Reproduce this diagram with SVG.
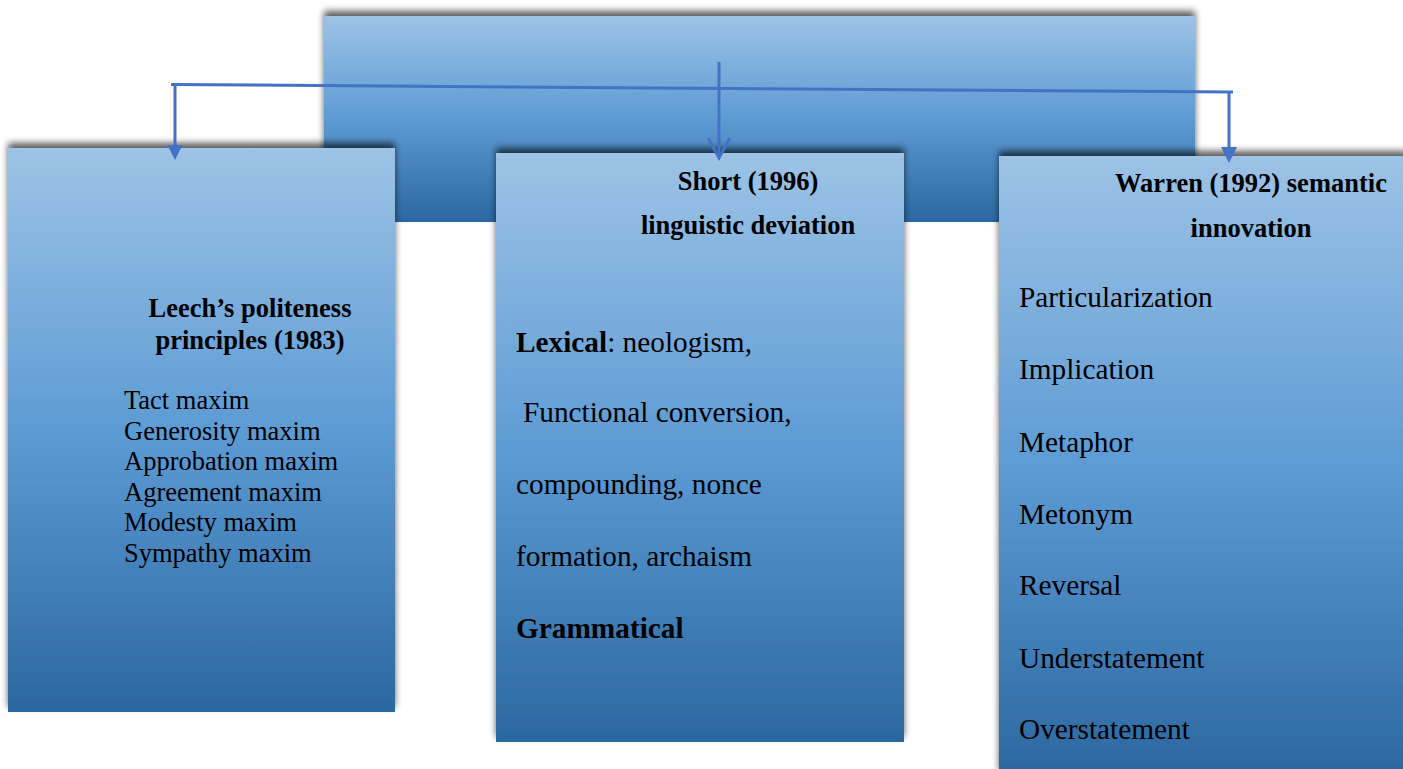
<svg xmlns="http://www.w3.org/2000/svg" width="1403" height="769" viewBox="0 0 1403 769">
<defs>
<linearGradient id="g" x1="0" y1="0" x2="0" y2="1">
<stop offset="0" stop-color="#9dc3e6"/>
<stop offset="0.5" stop-color="#5d9bd4"/>
<stop offset="1" stop-color="#2b67a0"/>
</linearGradient>
<filter id="sh" x="-10%" y="-10%" width="120%" height="120%">
<feGaussianBlur in="SourceAlpha" stdDeviation="3.5"/>
<feOffset dx="0" dy="-5" result="b"/>
<feComponentTransfer><feFuncA type="linear" slope="0.65"/></feComponentTransfer>
<feMerge><feMergeNode/><feMergeNode in="SourceGraphic"/></feMerge>
</filter>
</defs>
<style>
.box{fill:url(#g);filter:url(#sh)}
.h{font-family:"Liberation Serif","Times New Roman",serif;font-weight:bold;font-size:26.5px;fill:#000;text-anchor:middle}
.t{font-family:"Liberation Serif","Times New Roman",serif;font-size:26.5px;fill:#000}
.t2{font-family:"Liberation Serif","Times New Roman",serif;font-size:29.3px;fill:#000}
.b{font-weight:bold}
.c{fill:none;stroke:#4472c4;stroke-width:3}
.a{fill:#4472c4}
</style>
<rect width="1403" height="769" fill="#fff"/>
<g id="top">
<rect class="box" x="324" y="16" width="871" height="206"/>
</g>
<g id="leech">
<rect class="box" x="8" y="148" width="387" height="564"/>
<text class="h" x="250" y="317">Leech’s politeness</text>
<text class="h" x="250" y="349">principles (1983)</text>
<text class="t" x="124" y="409">Tact maxim</text>
<text class="t" x="124" y="439.5">Generosity maxim</text>
<text class="t" x="124" y="470">Approbation maxim</text>
<text class="t" x="124" y="500.5">Agreement maxim</text>
<text class="t" x="124" y="531">Modesty maxim</text>
<text class="t" x="124" y="561.5">Sympathy maxim</text>
</g>
<g id="short">
<rect class="box" x="496" y="153" width="408" height="589"/>
<text class="h" x="748" y="190">Short (1996)</text>
<text class="h" x="748" y="234">linguistic deviation</text>
<text class="t2" x="516" y="352"><tspan class="b">Lexical</tspan>: neologism,</text>
<text class="t2" x="523" y="422">Functional conversion,</text>
<text class="t2" x="516" y="494">compounding, nonce</text>
<text class="t2" x="516" y="566">formation, archaism</text>
<text class="t2 b" x="516" y="638">Grammatical</text>
</g>
<g id="warren">
<rect class="box" x="999" y="156" width="410" height="620"/>
<text class="h" x="1251" y="192">Warren (1992) semantic</text>
<text class="h" x="1251" y="237">innovation</text>
<text class="t2" x="1019" y="307">Particularization</text>
<text class="t2" x="1019" y="379">Implication</text>
<text class="t2" x="1019" y="452">Metaphor</text>
<text class="t2" x="1019" y="524">Metonym</text>
<text class="t2" x="1019" y="595">Reversal</text>
<text class="t2" x="1019" y="668">Understatement</text>
<text class="t2" x="1019" y="739">Overstatement</text>
</g>
<g id="connectors">
<line class="c" x1="171" y1="84.5" x2="1233" y2="92"/>
<line class="c" x1="175" y1="84.5" x2="175" y2="148"/>
<polygon class="a" points="167.5,145 182.5,145 175,160"/>
<line class="c" x1="719" y1="62" x2="719" y2="157"/>
<polyline class="c" points="708,138 719,158 730,138"/>
<line class="c" x1="1229" y1="92" x2="1229" y2="150"/>
<polygon class="a" points="1221,147 1237,147 1229,163"/>
</g>
</svg>
